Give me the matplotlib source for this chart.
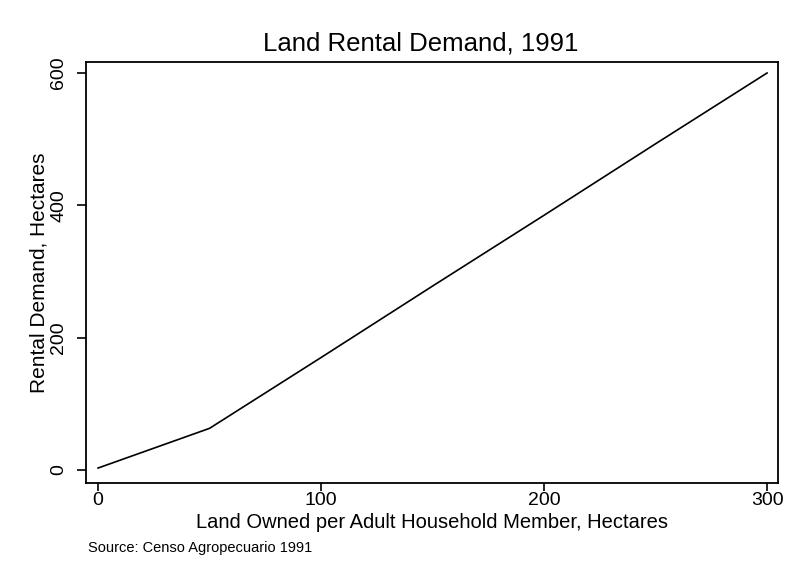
import matplotlib
matplotlib.use("Agg")
import matplotlib.pyplot as plt

# data
land_owned = [0, 10, 20, 30, 40, 50, 100, 150, 200, 250, 300]
rental_demand = [3, 15, 27, 39, 51, 63, 170, 278, 385, 493, 600]

x_ticks = [0, 100, 200, 300]
y_ticks = [0, 200, 400, 600]

plt.rcParams['font.family'] = ['Liberation Sans', 'DejaVu Sans']

fig = plt.figure(figsize=(7.86, 5.63), dpi=100)
ax = fig.add_axes([86 / 786, 1 - 483 / 563, (778 - 86) / 786, (483 - 62) / 563])

ax.plot(land_owned, rental_demand, color='black', linewidth=1.2)

ax.set_xlim(-5.4, 304.9)
ax.set_ylim(-19.6, 616.6)
ax.set_xticks(x_ticks)
ax.set_yticks(y_ticks)
ax.tick_params(axis='x', direction='out', length=5.5, width=1.2, labelsize=14, pad=1)
ax.tick_params(axis='y', direction='out', length=6.5, width=1.2, labelsize=14, pad=7)
for lbl in ax.get_yticklabels():
    lbl.set_rotation(90)
    lbl.set_va('center')
for s in ax.spines.values():
    s.set_linewidth(1.3)

# title sits a little left of the axes centre in the reference
fig.text(421 / 786, 1 - 50 / 563, 'Land Rental Demand, 1991', fontsize=18.5,
         ha='center', va='baseline')
ax.set_xlabel('Land Owned per Adult Household Member, Hectares', fontsize=14.5, labelpad=2.5)
ax.set_ylabel('Rental Demand, Hectares', fontsize=15, labelpad=1)

fig.text(88 / 786, 1 - 548 / 563, 'Source: Censo Agropecuario 1991', fontsize=10.5, va='center')

fig.savefig('out.png', dpi=100, facecolor='white')
